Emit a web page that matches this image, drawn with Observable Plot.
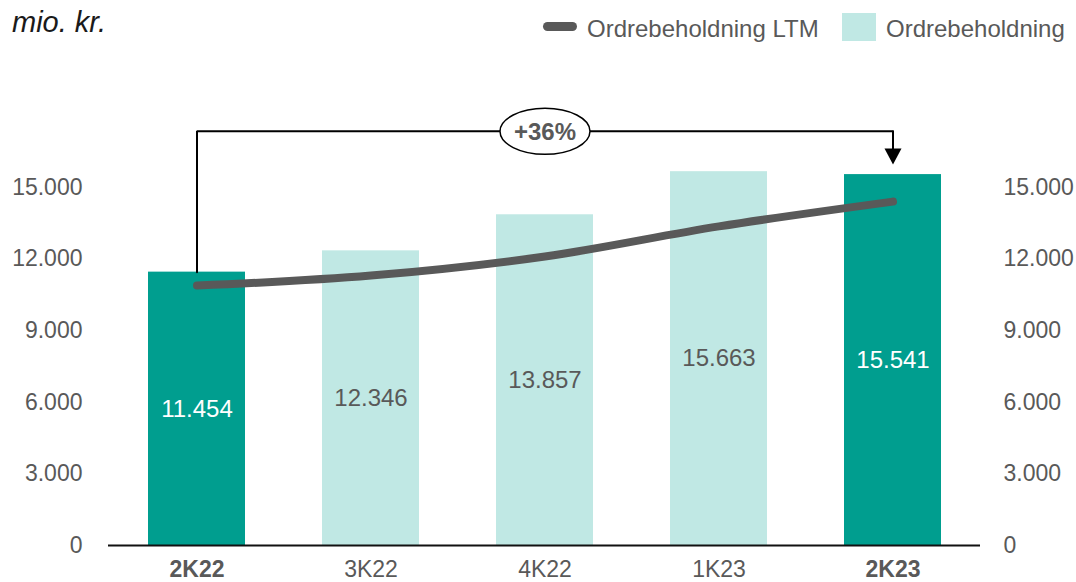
<!DOCTYPE html>
<html>
<head>
<meta charset="utf-8">
<script src="https://cdn.jsdelivr.net/npm/d3@7"></script>
<script src="https://cdn.jsdelivr.net/npm/@observablehq/plot@0.6"></script>
<style>
  body { margin: 0; background: #fff; font-family: "Liberation Sans", Arial, sans-serif; }
  #wrap { position: relative; width: 1076px; height: 582px; overflow: hidden; }
  #chart { position: absolute; left: 0; top: 0; }
  .title { position: absolute; left: 12px; top: 8px; font-size: 29px; line-height: 29px; font-style: italic; color: #1a1a1a; white-space: nowrap; }
  .leg { position: absolute; top: 17px; font-size: 24px; line-height: 24px; color: #595959; white-space: nowrap; }
  .sw-line { position: absolute; left: 543px; top: 22px; width: 34px; height: 9px; border-radius: 4.5px; background: #595959; }
  .sw-box { position: absolute; left: 842px; top: 13px; width: 34px; height: 28px; background: #c0e8e4; }
</style>
</head>
<body>
<div id="wrap">
  <div id="chart"></div>
  <div class="title" id="title"></div>
  <div class="sw-line"></div>
  <div class="leg" id="leg1" style="left:587px"></div>
  <div class="sw-box"></div>
  <div class="leg" id="leg2" style="left:886px"></div>
</div>
<script>
// ---- data ----
const categories = ["2K22", "3K22", "4K22", "1K23", "2K23"];
const ordrebeholdning = [11454, 12346, 13857, 15663, 15541];
const ordrebeholdningLTM = [10890, 11310, 12110, 13370, 14410];
const highlighted = [true, false, false, false, true];
const yTicks = [0, 3000, 6000, 9000, 12000, 15000];
const seriesNames = ["Ordrebeholdning LTM", "Ordrebeholdning"];
const unitLabel = "mio. kr.";

// ---- styles ----
const DARK = "#009e8f", LIGHT = "#c0e8e4", LINE = "#595959", TEXT = "#595959";

document.getElementById("title").textContent = unitLabel;
document.getElementById("leg1").textContent = seriesNames[0];
document.getElementById("leg2").textContent = seriesNames[1];

const fmt = d => d3.format(",")(d).replace(/,/g, ".");
const rows = categories.map((c, i) => ({cat: c, value: ordrebeholdning[i], ltm: ordrebeholdningLTM[i], hl: highlighted[i]}));

const first = rows[0], last = rows[rows.length - 1];
const growth = last.value / first.value - 1;
const growthLabel = (growth >= 0 ? "+" : "") + Math.round(growth * 100) + "%";
const level = d3.max(ordrebeholdning) * 1.108;
const midCat = categories[Math.floor(categories.length / 2)];

const ellipse = {
  draw(ctx) {
    const rx = 45, ry = 23, k = 0.5523;
    ctx.moveTo(rx, 0);
    ctx.bezierCurveTo(rx, ry * k, rx * k, ry, 0, ry);
    ctx.bezierCurveTo(-rx * k, ry, -rx, ry * k, -rx, 0);
    ctx.bezierCurveTo(-rx, -ry * k, -rx * k, -ry, 0, -ry);
    ctx.bezierCurveTo(rx * k, -ry, rx, -ry * k, rx, 0);
    ctx.closePath();
  }
};
const arrowHead = {
  draw(ctx) {
    ctx.moveTo(-8.5, -16);
    ctx.lineTo(8.5, -16);
    ctx.lineTo(0, 0);
    ctx.closePath();
  }
};

const hlCats = categories.filter((c, i) => highlighted[i]);
const otherCats = categories.filter((c, i) => !highlighted[i]);

const chart = Plot.plot({
  width: 1076,
  height: 582,
  marginLeft: 108,
  marginRight: 96,
  marginTop: 187,
  marginBottom: 37,
  x: {domain: categories, paddingInner: 0.444, paddingOuter: 0.222},
  y: {domain: [0, 15000]},
  color: {type: "identity"},
  style: {fontFamily: "'Liberation Sans', Arial, sans-serif", color: TEXT, background: "transparent", overflow: "visible"},
  marks: [
    Plot.barY(rows, {x: "cat", y: "value", fill: d => d.hl ? DARK : LIGHT}),
    Plot.ruleY([0], {stroke: "#111", strokeWidth: 2}),
    Plot.text(rows, {x: "cat", y: d => d.value / 2, text: d => fmt(d.value), fill: d => d.hl ? "#ffffff" : TEXT, fontSize: 24}),
    Plot.line(rows, {x: "cat", y: "ltm", stroke: LINE, strokeWidth: 8, strokeLinecap: "round", strokeLinejoin: "round", curve: "monotone-x"}),
    // growth bracket
    Plot.line([{x: first.cat, y: first.value}, {x: first.cat, y: level}, {x: last.cat, y: level}],
      {x: "x", y: "y", stroke: "#000", strokeWidth: 2, strokeLinejoin: "miter", curve: "linear"}),
    Plot.ruleX([{x: last.cat, y1: level, y2: last.value}], {x: "x", y1: "y1", y2: "y2", stroke: "#000", strokeWidth: 2, insetBottom: 19}),
    Plot.dot([{x: last.cat, y: last.value}], {x: "x", y: "y", symbol: arrowHead, r: 5, fill: "#000", stroke: "none", dy: -10}),
    Plot.dot([{x: midCat, y: level}], {x: "x", y: "y", symbol: ellipse, r: 5, fill: "#fff", stroke: "#000", strokeWidth: 1.5}),
    Plot.text([{x: midCat, y: level}], {x: "x", y: "y", text: () => growthLabel, fontWeight: "bold", fontSize: 24, fill: TEXT, dy: 1}),
    // axes
    Plot.axisY(yTicks, {anchor: "left", tickSize: 0, tickPadding: 26, tickFormat: fmt, fontSize: 23, label: null}),
    Plot.axisY(yTicks, {anchor: "right", tickSize: 0, tickPadding: 23, tickFormat: fmt, fontSize: 23, label: null}),
    Plot.axisX(hlCats, {tickSize: 0, tickPadding: 15, fontSize: 23, fontWeight: "bold", label: null}),
    Plot.axisX(otherCats, {tickSize: 0, tickPadding: 15, fontSize: 23, label: null})
  ]
});
document.getElementById("chart").appendChild(chart);
</script>
</body>
</html>
